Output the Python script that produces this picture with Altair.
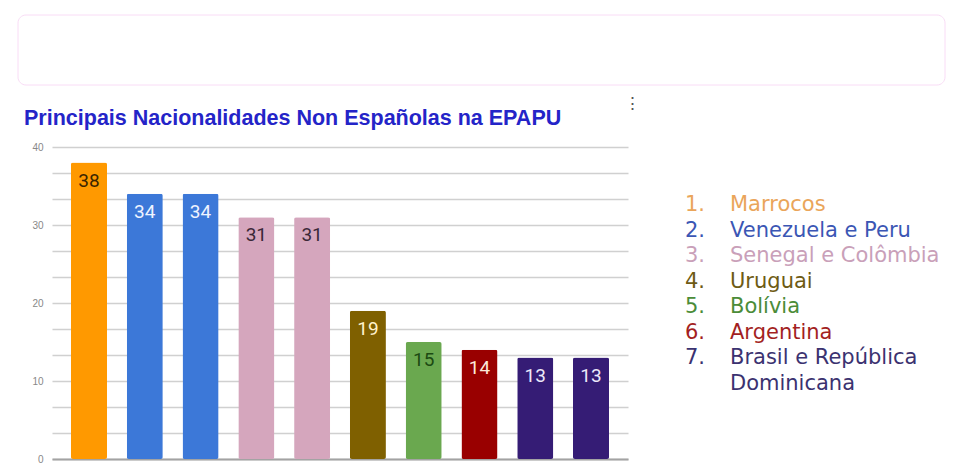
import altair as alt
import pandas as pd

# ---- data ----
countries = ["Marrocos", "Venezuela", "Peru", "Senegal", "Colômbia",
             "Uruguai", "Bolívia", "Argentina", "Brasil", "República Dominicana"]
values = [38, 34, 34, 31, 31, 19, 15, 14, 13, 13]
groups = [1, 2, 2, 3, 3, 4, 5, 6, 7, 7]

legend_ranks = [1, 2, 3, 4, 5, 6, 7]
legend_numbers = ["1.", "2.", "3.", "4.", "5.", "6.", "7."]
legend_labels = ["Marrocos", "Venezuela e Peru", "Senegal e Colômbia", "Uruguai",
                 "Bolívia", "Argentina", "Brasil e República\nDominicana"]

title_text = "Principais Nacionalidades Non Españolas na EPAPU"
grid_values = [0, 10/3, 20/3, 10, 40/3, 50/3, 20, 70/3, 80/3, 30, 100/3, 110/3, 40]

# ---- styles ----
bar_colors = ["#ff9900", "#3c78d8", "#d5a6bd", "#7f6000", "#6aa84f", "#990000", "#351c75"]
label_colors = ["#3b2500", "#eef3ff", "#3a2838", "#fff2cc", "#1c4a12", "#fde9d9", "#ece8fa"]
legend_colors = ["#eaa55a", "#3b56b4", "#c9a0b9", "#6e5b14", "#4b8c38", "#a31f22", "#3b3270"]

bars_df = pd.DataFrame({"pais": countries, "valor": values, "grupo": groups})
legend_df = pd.DataFrame({"rank": legend_ranks, "num": legend_numbers, "label": legend_labels})
one = pd.DataFrame({"a": [0]})

x_enc = alt.X("pais:N", sort=None, title=None,
              scale=alt.Scale(paddingInner=0.354, paddingOuter=0.34),
              axis=alt.Axis(labels=False, ticks=False, domainColor="#a3a3a3", domainWidth=2))

y_scale = alt.Scale(domain=[0, 40], nice=False)

bars = alt.Chart(bars_df).mark_bar(cornerRadius=2).encode(
    x=x_enc,
    y=alt.Y("valor:Q", scale=y_scale, title=None,
            axis=alt.Axis(values=grid_values,
                          labelExpr="datum.value % 10 === 0 ? datum.label : ''",
                          ticks=False, domain=False, grid=True,
                          gridColor="#d0d0d0", gridWidth=1.6,
                          labelFont="Liberation Sans", labelFontSize=10,
                          labelColor="#888888", labelPadding=9)),
    color=alt.Color("grupo:N", scale=alt.Scale(domain=legend_ranks, range=bar_colors), legend=None),
)

labels = alt.Chart(bars_df).mark_text(baseline="middle", dy=18, font="Roboto", fontSize=19).encode(
    x=alt.X("pais:N", sort=None),
    y=alt.Y("valor:Q", scale=y_scale, axis=None),
    text="valor:Q",
    color=alt.Color("grupo:N", scale=alt.Scale(domain=legend_ranks, range=label_colors), legend=None),
)

legend_y = alt.Y("rank:Q", scale=alt.Scale(domain=[1, 7], range=[58, 211]), axis=None)
legend_color = alt.Color("rank:N", scale=alt.Scale(domain=legend_ranks, range=legend_colors), legend=None)

legend_nums = alt.Chart(legend_df).mark_text(
    align="left", baseline="middle", font="DejaVu Sans", fontSize=21).encode(
    x=alt.value(633), y=legend_y, text="num:N", color=legend_color)

legend_txt = alt.Chart(legend_df).mark_text(
    align="left", baseline="middle", font="DejaVu Sans", fontSize=21,
    lineBreak="\n", lineHeight=26).encode(
    x=alt.value(678), y=legend_y, text="label:N", color=legend_color)

title = alt.Chart(one).mark_text(
    text=title_text, align="left", baseline="alphabetic", font="Liberation Sans",
    fontSize=21.5, fontWeight="bold", color="#2424c8").encode(
    x=alt.value(-28), y=alt.value(-22))

menu = alt.Chart(one).mark_text(text="⋮", fontSize=17, color="#555555", baseline="middle").encode(
    x=alt.value(580), y=alt.value(-43))

frame = alt.Chart(one).mark_rect(filled=False, stroke="#f9dcf6", strokeWidth=1, cornerRadius=8).encode(
    x=alt.value(-34), x2=alt.value(893), y=alt.value(-132), y2=alt.value(-62))

chart = alt.layer(frame, bars, labels, legend_nums, legend_txt, title, menu).resolve_scale(
    y="independent", color="independent"
).properties(
    width=576, height=312,
    autosize=alt.AutoSizeParams(type="none"),
    padding={"left": 44, "top": 139, "right": 330, "bottom": 5},
    background="white",
).configure_view(stroke=None)

chart.save("out.html", embed_options={"renderer": "svg", "actions": False})
